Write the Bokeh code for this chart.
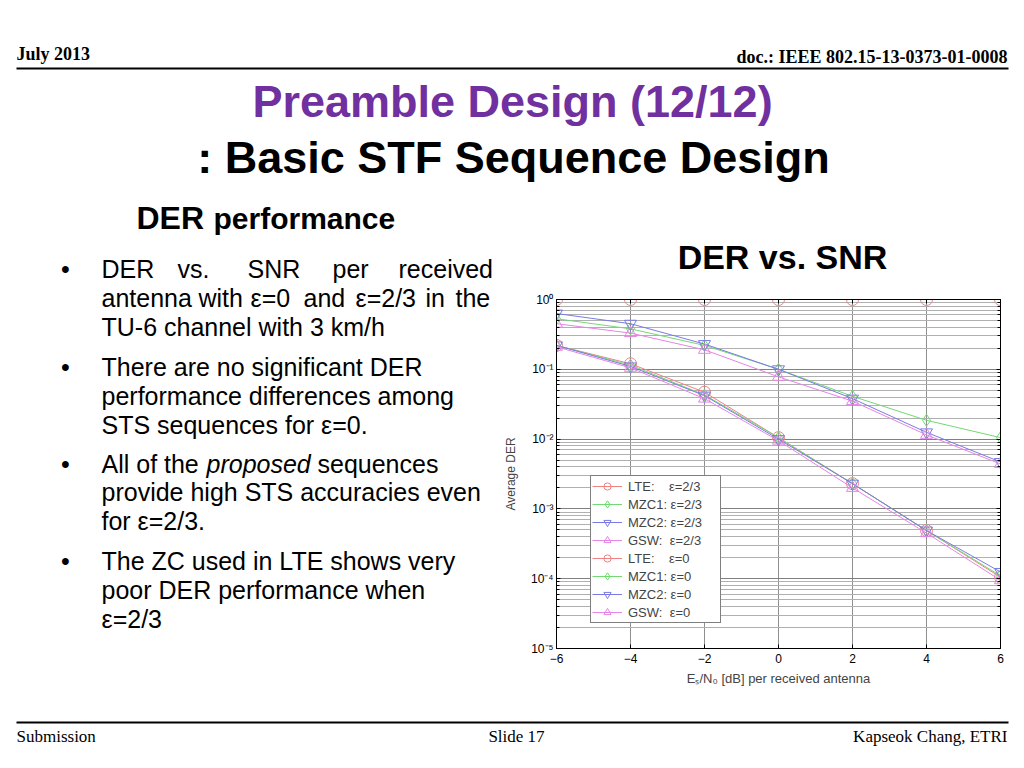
from bokeh.plotting import figure
from bokeh.layouts import column, row
from bokeh.models import (Label, Legend, LegendItem, LinearAxis, LogAxis, Range1d,
                          FixedTicker, LogTicker, CustomJSTickFormatter)
from bokeh.embed import file_html
from bokeh.resources import INLINE

# ---------------- data ----------------
snr_db = [-6, -4, -2, 0, 2, 4, 6]
lte_e23 = [1.0, 1.0, 1.0, 1.0, 1.0, 1.0, 1.0]
mzc1_e23 = [0.53, 0.38, 0.22, 0.10, 0.041, 0.0186, 0.0105]
mzc2_e23 = [0.63, 0.45, 0.23, 0.10, 0.038, 0.0125, 0.0047]
gsw_e23 = [0.45, 0.33, 0.19, 0.078, 0.035, 0.0115, 0.0044]
lte_e0 = [0.22, 0.12, 0.047, 0.0105, 0.0023, 0.00049, 0.000105]
mzc1_e0 = [0.22, 0.115, 0.043, 0.0105, 0.0023, 0.00049, 0.00011]
mzc2_e0 = [0.22, 0.11, 0.042, 0.010, 0.0023, 0.00049, 0.000125]
gsw_e0 = [0.21, 0.105, 0.038, 0.0095, 0.0020, 0.00045, 0.000095]

series_labels = ["LTE:    ε=2/3", "MZC1: ε=2/3", "MZC2: ε=2/3", "GSW:  ε=2/3",
                 "LTE:    ε=0", "MZC1: ε=0", "MZC2: ε=0", "GSW:  ε=0"]
x_ticks = [-6, -4, -2, 0, 2, 4, 6]
y_ticks = [1, 0.1, 0.01, 0.001, 0.0001, 0.00001]
y_tick_labels = ["10⁰", "10⁻¹", "10⁻²", "10⁻³", "10⁻⁴", "10⁻⁵"]

title1 = "Preamble Design (12/12)"
title2 = ": Basic STF Sequence Design"
chart_title = "DER vs. SNR"
x_label = "Eₛ/N₀ [dB] per received antenna"
y_label = "Average DER"

# ---------------- page geometry (page px, origin top-left) ----------------
W = 1020
HEAD_H = 285          # header block: y 0..285
MID_H = 415           # middle block: y 285..700
FOOT_H = 66           # footer block: y 700..766
LEFT_W = 500          # bullets block: x 0..500
CHART_W = W - LEFT_W  # chart block: x 500..1020
FRAME_L, FRAME_R, FRAME_T, FRAME_B = 554, 1000, 299, 648


def no_align(f):
    try:
        f.frame_align = False
    except Exception:
        pass


def canvas_fig(w, h, x0, y0):
    f = figure(width=w, height=h, x_range=Range1d(x0, x0 + w), y_range=Range1d(y0 + h, y0),
               output_backend="svg", toolbar_location=None, x_axis_location=None,
               y_axis_location=None, min_border=0)
    f.grid.visible = False
    f.outline_line_color = None
    f.background_fill_color = "white"
    f.border_fill_color = "white"
    no_align(f)
    return f


def txt(f, text, X, B, size, align="left", font="Liberation Sans", style="normal",
        color="black"):
    # B = wanted baseline (page px); compensate the renderer's baseline placement
    f.add_layout(Label(x=X, y=B - 0.36 * size, text=text, text_font=font,
                       text_font_size=f"{size}px", text_font_style=style, text_color=color,
                       text_align=align, text_baseline="alphabetic"))


FS = 25

# ---------------- header ----------------
head = canvas_fig(W, HEAD_H, 0, 0)
txt(head, "July 2013", 16, 60, 18, font="Liberation Serif", style="bold")
txt(head, "doc.: IEEE 802.15-13-0373-01-0008", 1007, 63, 18, align="right",
    font="Liberation Serif", style="bold")
head.segment(x0=[16], y0=[68], x1=[1008], y1=[68], line_color="black", line_width=2)
txt(head, title1, 512, 117, 45, align="center", style="bold", color="#7030A0")
txt(head, title2, 513, 173, 45, align="center", style="bold")
txt(head, "DER", 136, 229, 32, style="bold")
txt(head, "performance", 213, 229, 30, style="bold")
txt(head, chart_title, 782, 269, 34, align="center", style="bold")
txt(head, "•", 65, 277, FS, align="center")
for w_, X in zip(["DER", "vs.", "SNR", "per", "received"], [101, 177, 247, 332, 398]):
    txt(head, w_, X, 277, FS)

# ---------------- bullets ----------------
left = canvas_fig(LEFT_W, MID_H, 0, HEAD_H)
for by in [375, 472, 569]:
    txt(left, "•", 65, by, FS, align="center")
for w_, X in zip(["antenna", "with", "ε=0", "and", "ε=2/3", "in", "the"],
                 [101, 198, 250, 303, 355, 425, 455]):
    txt(left, w_, X, 306, FS)
txt(left, "TU-6 channel with 3 km/h", 101, 335, FS)
txt(left, "There are no significant DER", 101, 375, FS)
txt(left, "performance differences among", 101, 404, FS)
txt(left, "STS sequences for ε=0.", 101, 433, FS)
txt(left, "All of the", 101, 472, FS)
txt(left, "proposed", 206, 472, FS, style="italic")
txt(left, "sequences", 317, 472, FS)
txt(left, "provide high STS accuracies even", 101, 500, FS)
txt(left, "for ε=2/3.", 101, 529, FS)
txt(left, "The ZC used in LTE shows very", 101, 569, FS)
txt(left, "poor DER performance when", 101, 598, FS)
txt(left, "ε=2/3", 101, 627, FS)

# ---------------- chart ----------------
p = figure(width=CHART_W, height=MID_H, x_range=Range1d(-6, 6), y_range=Range1d(1e-5, 1),
           y_axis_type="log", output_backend="svg", toolbar_location=None,
           min_border_left=FRAME_L - LEFT_W, min_border_right=LEFT_W + CHART_W - FRAME_R,
           min_border_top=FRAME_T - HEAD_H, min_border_bottom=HEAD_H + MID_H - FRAME_B)
p.background_fill_color = "white"
p.border_fill_color = "white"
p.outline_line_color = "black"
p.outline_line_width = 1

blank = CustomJSTickFormatter(code="return ''")
ylab_fmt = CustomJSTickFormatter(args=dict(tvals=y_ticks, tlabs=y_tick_labels), code="""
    let best = 0, bd = Infinity;
    for (let i = 0; i < tvals.length; i++) {
        const d = Math.abs(Math.log10(tick) - Math.log10(tvals[i]));
        if (d < bd) { bd = d; best = i; }
    }
    return bd < 0.01 ? tlabs[best] : '';
""")

p.xaxis.ticker = FixedTicker(ticks=x_ticks)
p.xaxis.major_tick_in = 4
p.xaxis.major_tick_out = 0
p.xaxis.minor_tick_line_color = None
p.xaxis.axis_line_color = "black"
p.xaxis.major_label_text_font = "Liberation Sans"
p.xaxis.major_label_text_font_size = "12px"
p.xaxis.major_label_text_color = "black"
p.xaxis.major_label_standoff = 5
p.xaxis.axis_label = x_label
p.xaxis.axis_label_text_font = "Liberation Sans"
p.xaxis.axis_label_text_font_size = "13px"
p.xaxis.axis_label_text_font_style = "normal"
p.xaxis.axis_label_standoff = 5

p.yaxis.ticker = LogTicker(num_minor_ticks=10)
p.yaxis.formatter = ylab_fmt
p.yaxis.major_tick_in = 4
p.yaxis.major_tick_out = 0
p.yaxis.minor_tick_in = 3
p.yaxis.minor_tick_out = 0
p.yaxis.axis_line_color = "black"
p.yaxis.major_label_text_font = "Liberation Sans"
p.yaxis.major_label_text_font_size = "12px"
p.yaxis.major_label_text_color = "black"
p.yaxis.major_label_standoff = 3
p.yaxis.axis_label = y_label
p.yaxis.axis_label_text_font = "Liberation Sans"
p.yaxis.axis_label_text_font_size = "12px"
p.yaxis.axis_label_text_font_style = "normal"
p.yaxis.axis_label_standoff = 10

top = LinearAxis(ticker=FixedTicker(ticks=x_ticks), formatter=blank, major_tick_in=4,
                 major_tick_out=0, minor_tick_line_color=None, major_label_standoff=0)
p.add_layout(top, "above")
right = LogAxis(ticker=LogTicker(num_minor_ticks=10), formatter=blank, major_tick_in=4,
                major_tick_out=0, minor_tick_in=3, minor_tick_out=0, major_label_standoff=0)
p.add_layout(right, "right")

p.xgrid.grid_line_color = "#8f8f8f"
p.ygrid.grid_line_color = "#808080"
p.ygrid.minor_grid_line_color = "#b0b0b0"

colors = ["#ee8282", "#74d874", "#7a7ae4", "#e684e6"]
markers = ["circle", "diamond", "inverted_triangle", "triangle"]
all_series = [lte_e23, mzc1_e23, mzc2_e23, gsw_e23, lte_e0, mzc1_e0, mzc2_e0, gsw_e0]
items = []
for i, ys in enumerate(all_series):
    c = colors[i % 4]
    lr = p.line(snr_db, ys, line_color=c, line_width=1)
    sr = p.scatter(snr_db, ys, marker=markers[i % 4], size=12, fill_color=None,
                   line_color=c, line_width=1)
    items.append(LegendItem(label=series_labels[i], renderers=[lr, sr]))

legend = Legend(items=items, location=(34, 25))
legend.border_line_color = "black"
legend.border_line_width = 1
legend.background_fill_color = "white"
legend.background_fill_alpha = 1
legend.label_text_font = "Liberation Sans"
legend.label_text_font_size = "13px"
legend.glyph_width = 30
legend.glyph_height = 18
legend.label_height = 18
legend.label_width = 91
legend.spacing = 0
legend.padding = 1
legend.margin = 0
legend.label_standoff = 6
p.add_layout(legend)

# ---------------- footer ----------------
foot = canvas_fig(W, FOOT_H, 0, HEAD_H + MID_H)
foot.segment(x0=[16], y0=[722], x1=[1008], y1=[722], line_color="black", line_width=2)
txt(foot, "Submission", 16, 742, 17, font="Liberation Serif")
txt(foot, "Slide 17", 516, 742, 17, align="center", font="Liberation Serif")
txt(foot, "Kapseok Chang, ETRI", 1007, 742, 17, align="right", font="Liberation Serif")

page = column(head, row(left, p, spacing=0), foot, spacing=0)
open("out.html", "w").write(file_html(page, INLINE))
